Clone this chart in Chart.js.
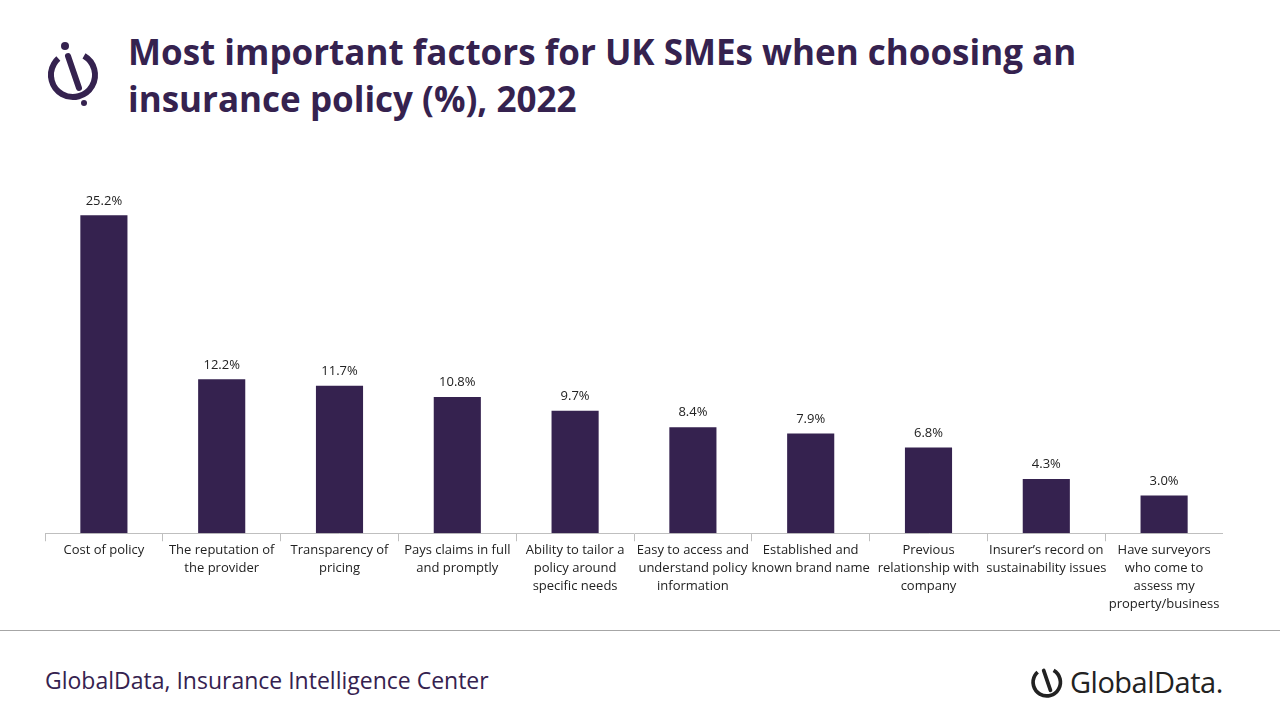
<!DOCTYPE html>
<html><head><meta charset="utf-8">
<script src="https://cdn.jsdelivr.net/npm/chart.js@4"></script>
<style>
body{margin:0;width:1280px;height:720px;background:#fff;font-family:"Open Sans",sans-serif;position:relative;overflow:hidden}
#title{position:absolute;left:128px;top:28px;font-size:35px;font-weight:bold;color:#35224f;line-height:47px;width:1100px}
#wrap{position:absolute;left:45px;top:180px;width:1178px;height:433px}
#line{position:absolute;left:0;top:630px;width:1280px;height:1px;background:#a6a6a6}
#src{position:absolute;left:45px;top:664px;font-size:23px;color:#35224f}
#brand{position:absolute;left:1070px;top:662px;font-size:29px;color:#222;font-family:"Open Sans",sans-serif;letter-spacing:-0.5px}
</style></head><body>
<svg style="position:absolute;left:46px;top:40px" width="58" height="66" viewBox="0 0 58 66">
<circle cx="27" cy="35" r="22" fill="none" stroke="#35224f" stroke-width="6" stroke-dasharray="110 28" transform="rotate(-60 27 35)"/>
<line x1="22" y1="16" x2="33" y2="48" stroke="#35224f" stroke-width="6" stroke-linecap="round"/>
<circle cx="19" cy="6" r="4" fill="#35224f"/><circle cx="38" cy="63" r="3" fill="#35224f"/>
</svg>
<div id="title">Most important factors for UK SMEs when choosing an insurance policy (%), 2022</div>
<div id="wrap"><canvas id="c"></canvas></div>
<div id="line"></div>
<div id="src">GlobalData, Insurance Intelligence Center</div>
<svg style="position:absolute;left:1030px;top:660px" width="36" height="42" viewBox="0 0 58 66">
<circle cx="27" cy="35" r="22" fill="none" stroke="#222" stroke-width="6" stroke-dasharray="110 28" transform="rotate(-60 27 35)"/>
<line x1="22" y1="16" x2="33" y2="48" stroke="#222" stroke-width="6" stroke-linecap="round"/>
</svg>
<div id="brand">GlobalData.</div>
<script>
const categories=[["Cost of policy"],["The reputation of","the provider"],["Transparency of","pricing"],["Pays claims in full","and promptly"],["Ability to tailor a","policy around","specific needs"],["Easy to access and","understand policy","information"],["Established and","known brand name"],["Previous","relationship with","company"],["Insurer’s record on","sustainability issues"],["Have surveyors","who come to","assess my","property/business"]];
const values=[25.2,12.2,11.7,10.8,9.7,8.4,7.9,6.8,4.3,3.0];
const labelsPlugin={id:'lbl',afterDatasetsDraw(ch){const c=ch.ctx;const m=ch.getDatasetMeta(0);c.save();c.font='13px "Open Sans"';c.fillStyle='#222';c.textAlign='center';c.textBaseline='bottom';m.data.forEach((b,i)=>c.fillText(values[i].toFixed(1)+'%',b.x,b.y-8));c.restore();}};
new Chart(document.getElementById('c'),{type:'bar',data:{labels:categories,datasets:[{data:values,backgroundColor:'#35224f',barPercentage:0.8,categoryPercentage:0.5}]},
options:{responsive:true,maintainAspectRatio:false,animation:false,layout:{padding:0},plugins:{legend:{display:false},tooltip:{enabled:false}},
scales:{y:{display:false,min:0,max:28},x:{border:{color:'#bfbfbf'},grid:{offset:true,drawOnChartArea:false,drawTicks:true,tickLength:8,color:'#bfbfbf'},ticks:{color:'#222',font:{size:13,family:'"Open Sans"',lineHeight:1.38},maxRotation:0,autoSkip:false,padding:0}}}},plugins:[labelsPlugin]});
</script>
</body></html>
